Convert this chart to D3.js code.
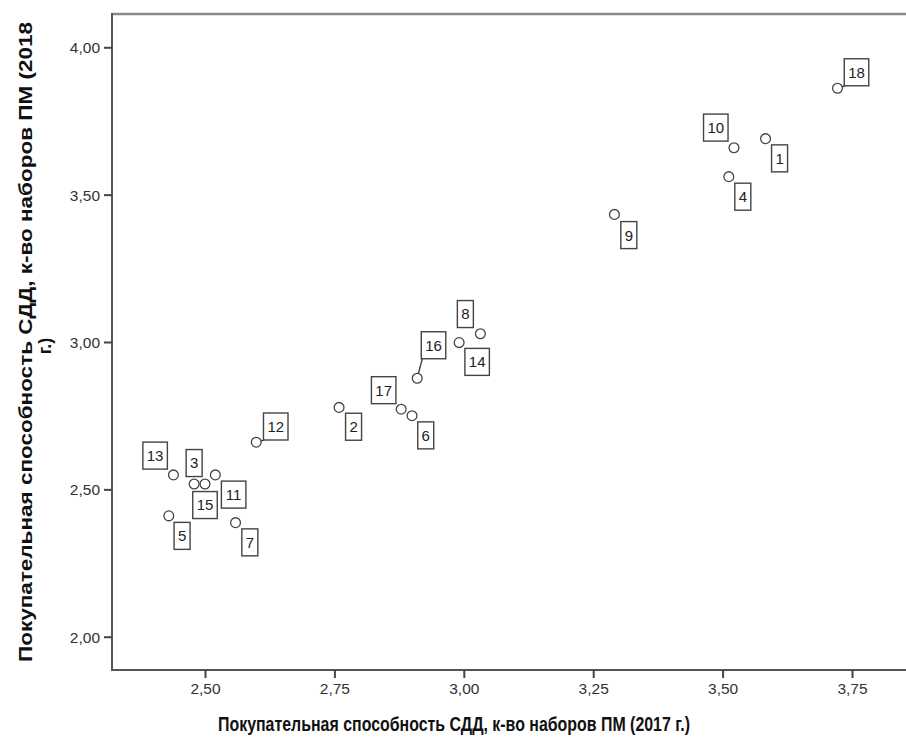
<!DOCTYPE html>
<html>
<head>
<meta charset="utf-8">
<script src="https://cdn.jsdelivr.net/npm/d3@7"></script>
<style>
  body { margin: 0; background: #fff; }
  svg { display: block; font-family: "Liberation Sans", Arial, sans-serif; }
</style>
</head>
<body>
<div id="chart"></div>
<script>
// point ids and values
const ids = [1, 2, 3, 4, 5, 6, 7, 8, 9, 10, 11, 12, 13, 14, 15, 16, 17, 18];
const x2017 = [3.583, 2.759, 2.479, 3.512, 2.430, 2.900, 2.559, 3.032, 3.291, 3.522, 2.520, 2.599, 2.439, 2.991, 2.500, 2.910, 2.879, 3.722];
const y2018 = [3.690, 2.778, 2.518, 3.561, 2.410, 2.750, 2.387, 3.028, 3.433, 3.659, 2.549, 2.660, 2.549, 2.998, 2.518, 2.877, 2.772, 3.861];
const xTicks = [2.50, 2.75, 3.00, 3.25, 3.50, 3.75];
const yTicks = [2.00, 2.50, 3.00, 3.50, 4.00];
const xTitle = "Покупательная способность СДД, к-во наборов ПМ (2017 г.)";
const yTitle = ["Покупательная способность СДД, к-во наборов ПМ (2018", "г.)"];

// label box placement relative to the point (layout only)
const labelOffsets = [
    [14, 19.7], [14.5, 19.3], [0, -21], [14, 20], [13.3, 20], [13.7, 19.7],
    [14.3, 19.7], [-15, -19.7], [14.4, 20.7], [-18.2, -20.2], [18.3, 19.7], [19.5, -15.7],
    [-18.3, -19.3], [18, 19.3], [0, 21], [16.3, -33], [-17.5, -19], [19, -16]
];
const leaders = [12, 16, 18];

const points = ids.map((id, i) => ({ id: id, x: x2017[i], y: y2018[i], off: labelOffsets[i] }));

function draw() {
    const width = 906, height = 738;
    const left = 112, top = 14, bottom = 670, right = 906;

    const svg = d3.select("#chart").append("svg")
        .attr("width", width)
        .attr("height", height);

    const x = d3.scaleLinear().domain([2.5, 3.75]).range([205, 852]);
    const y = d3.scaleLinear().domain([2, 4]).range([636.7, 47.3]);
    const fmt = d => d3.format(".2f")(d).replace(".", ",");

    // frame
    svg.append("line").attr("x1", left).attr("x2", right).attr("y1", top).attr("y2", top)
        .attr("stroke", "#8a8a8a").attr("stroke-width", 2.5);
    svg.append("line").attr("x1", left).attr("x2", left).attr("y1", top - 1).attr("y2", bottom + 1)
        .attr("stroke", "#555").attr("stroke-width", 2);
    svg.append("line").attr("x1", left - 1).attr("x2", right).attr("y1", bottom).attr("y2", bottom)
        .attr("stroke", "#555").attr("stroke-width", 2);

    const xAxis = svg.append("g")
        .attr("transform", `translate(0,${bottom})`)
        .call(d3.axisBottom(x).tickValues(xTicks).tickSize(8).tickSizeOuter(0).tickFormat(fmt));
    xAxis.select(".domain").remove();
    xAxis.selectAll("line").attr("stroke", "#444").attr("stroke-width", 2);
    xAxis.selectAll("text").attr("font-size", 15.5).attr("fill", "#333")
        .attr("font-family", "Liberation Sans, Arial, sans-serif").attr("y", 12).attr("dy", "0.8em");

    const yAxis = svg.append("g")
        .attr("transform", `translate(${left},0)`)
        .call(d3.axisLeft(y).tickValues(yTicks).tickSize(8).tickSizeOuter(0).tickFormat(fmt));
    yAxis.select(".domain").remove();
    yAxis.selectAll("line").attr("stroke", "#444").attr("stroke-width", 2);
    yAxis.selectAll("text").attr("font-size", 15.5).attr("fill", "#333")
        .attr("font-family", "Liberation Sans, Arial, sans-serif").attr("x", -12).attr("dy", "0.36em");

    // axis titles
    svg.append("text")
        .attr("x", 454).attr("y", 731)
        .attr("text-anchor", "middle")
        .attr("font-size", 20).attr("font-weight", "bold").attr("fill", "#111")
        .attr("textLength", 472).attr("lengthAdjust", "spacingAndGlyphs")
        .text(xTitle);

    const yt = svg.append("g").attr("transform", "translate(0,342) rotate(-90)");
    yt.append("text")
        .attr("x", 0).attr("y", 32)
        .attr("text-anchor", "middle")
        .attr("font-size", 18).attr("font-weight", "bold").attr("fill", "#111")
        .attr("textLength", 640).attr("lengthAdjust", "spacingAndGlyphs")
        .text(yTitle[0]);
    yt.append("text")
        .attr("x", -4).attr("y", 51)
        .attr("text-anchor", "middle")
        .attr("font-size", 18).attr("font-weight", "bold").attr("fill", "#111")
        .text(yTitle[1]);

    // leader lines
    const boxW = d => d.id >= 10 ? 24.5 : 16;
    const boxH = 27;
    svg.append("g").selectAll("line")
        .data(points.filter(d => leaders.includes(d.id)))
        .join("line")
        .attr("x1", d => x(d.x)).attr("y1", d => y(d.y))
        .attr("x2", d => x(d.x) + d.off[0] - Math.sign(d.off[0]) * boxW(d) / 2 + Math.sign(d.off[0]) * 1)
        .attr("y2", d => y(d.y) + d.off[1] - Math.sign(d.off[1]) * boxH / 2)
        .attr("stroke", "#444").attr("stroke-width", 1.4);

    // points
    svg.append("g").selectAll("circle")
        .data(points)
        .join("circle")
        .attr("cx", d => x(d.x)).attr("cy", d => y(d.y))
        .attr("r", 4.9)
        .attr("fill", "#fff")
        .attr("stroke", "#444").attr("stroke-width", 1.3);

    // label boxes
    const labels = svg.append("g").selectAll("g")
        .data(points)
        .join("g")
        .attr("transform", d => `translate(${x(d.x) + d.off[0]},${y(d.y) + d.off[1]})`);
    labels.append("rect")
        .attr("x", d => -boxW(d) / 2).attr("y", -boxH / 2)
        .attr("width", boxW).attr("height", boxH)
        .attr("fill", "#fff")
        .attr("stroke", "#444").attr("stroke-width", 1.4);
    labels.append("text")
        .attr("text-anchor", "middle").attr("dy", "0.36em")
        .attr("font-size", 15).attr("fill", "#222")
        .text(d => d.id);
}

window.addEventListener("load", draw);
</script>
</body>
</html>
